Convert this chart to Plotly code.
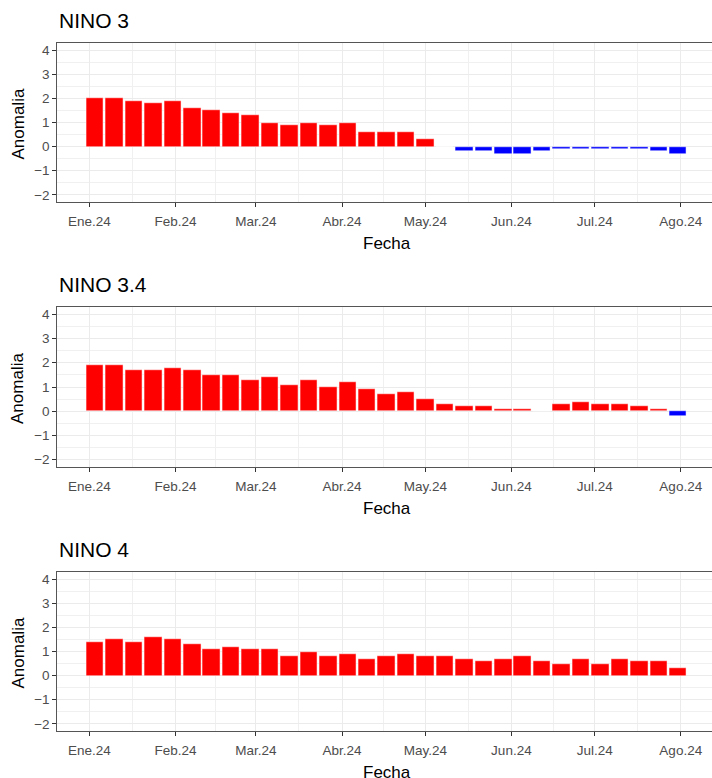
import plotly.graph_objects as go

# Weekly SST anomalies (°C) for the Niño regions, 2024
fechas = [
    "2024-01-03", "2024-01-10", "2024-01-17", "2024-01-24", "2024-01-31",
    "2024-02-07", "2024-02-14", "2024-02-21", "2024-02-28", "2024-03-06",
    "2024-03-13", "2024-03-20", "2024-03-27", "2024-04-03", "2024-04-10",
    "2024-04-17", "2024-04-24", "2024-05-01", "2024-05-08", "2024-05-15",
    "2024-05-22", "2024-05-29", "2024-06-05", "2024-06-12", "2024-06-19",
    "2024-06-26", "2024-07-03", "2024-07-10", "2024-07-17", "2024-07-24",
    "2024-07-31",
]

nino3 = [2.0, 2.0, 1.9, 1.8, 1.9, 1.6, 1.5, 1.4, 1.3, 1.0,
         0.9, 1.0, 0.9, 1.0, 0.6, 0.6, 0.6, 0.3, 0.0, -0.2,
         -0.2, -0.3, -0.3, -0.2, -0.1, -0.1, -0.1, -0.1, -0.1, -0.2,
         -0.3]

nino34 = [1.9, 1.9, 1.7, 1.7, 1.8, 1.7, 1.5, 1.5, 1.3, 1.4,
          1.1, 1.3, 1.0, 1.2, 0.9, 0.7, 0.8, 0.5, 0.3, 0.2,
          0.2, 0.1, 0.1, 0.0, 0.3, 0.4, 0.3, 0.3, 0.2, 0.1,
          -0.2]

nino4 = [1.4, 1.5, 1.4, 1.6, 1.5, 1.3, 1.1, 1.2, 1.1, 1.1,
         0.8, 1.0, 0.8, 0.9, 0.7, 0.8, 0.9, 0.8, 0.8, 0.7,
         0.6, 0.7, 0.8, 0.6, 0.5, 0.7, 0.5, 0.7, 0.6, 0.6,
         0.3]

regiones = ["NINO 3", "NINO 3.4", "NINO 4"]
series = [nino3, nino34, nino4]

meses = ["2024-01-01", "2024-02-01", "2024-03-01", "2024-04-01",
         "2024-05-01", "2024-06-01", "2024-07-01", "2024-08-01"]
etiquetas_meses = ["Ene.24", "Feb.24", "Mar.24", "Abr.24",
                   "May.24", "Jun.24", "Jul.24", "Ago.24"]
# minor grid between month breaks
medios_mes = ["2024-01-16 12:00", "2024-02-15 12:00", "2024-03-16 12:00",
              "2024-04-16", "2024-05-16 12:00", "2024-06-16", "2024-07-16 12:00"]

W, H = 712, 778
FONT = "Liberation Sans, Arial, sans-serif"
MS_DIA = 86400000
ancho_barra = 0.9 * 7 * MS_DIA

# panel placement in pixels (top, bottom)
paneles_px = [(43, 202), (307, 467), (572, 731)]
x_izq = 57.3 / W

fig = go.Figure()
layout_axes = {}
annotations = []

for i, (nombre, valores) in enumerate(zip(regiones, series)):
    n = i + 1
    xa = "x" if n == 1 else f"x{n}"
    ya = "y" if n == 1 else f"y{n}"
    colores = ["#FF0000" if v >= 0 else "#0000FF" for v in valores]
    fig.add_trace(go.Bar(
        x=fechas, y=valores, width=ancho_barra,
        marker=dict(color=colores, line=dict(color="white", width=0.5)),
        xaxis=xa, yaxis=ya, showlegend=False,
    ))
    top, bot = paneles_px[i]
    dom = [1 - bot / H, 1 - top / H]
    xkey = "xaxis" if n == 1 else f"xaxis{n}"
    ykey = "yaxis" if n == 1 else f"yaxis{n}"
    layout_axes[xkey] = dict(
        domain=[x_izq, 1.0], anchor=ya, type="date",
        range=["2023-12-20 11:00", "2024-08-12 06:00"],
        tickmode="array", tickvals=meses, ticktext=etiquetas_meses,
        ticks="outside", ticklen=4, tickwidth=1, tickcolor="#333333",
        ticklabelstandoff=3,
        tickfont=dict(family=FONT, size=13.5, color="#4D4D4D"),
        showgrid=True, gridcolor="#EBEBEB", gridwidth=1.4,
        minor=dict(tickmode="array", tickvals=medios_mes, showgrid=True,
                   gridcolor="#F0F0F0", gridwidth=0.8, ticks=""),
        showline=True, mirror=True, linecolor="#555555", linewidth=1,
        zeroline=False, fixedrange=True,
    )
    layout_axes[ykey] = dict(
        domain=dom, anchor=xa, range=[-2.3, 4.3],
        tickmode="array", tickvals=[-2, -1, 0, 1, 2, 3, 4],
        ticks="outside", ticklen=4, tickwidth=1, tickcolor="#333333",
        tickfont=dict(family=FONT, size=13.5, color="#4D4D4D"),
        showgrid=True, gridcolor="#EBEBEB", gridwidth=1.4,
        minor=dict(dtick=0.5, tick0=0, showgrid=True,
                   gridcolor="#F0F0F0", gridwidth=0.8, ticks=""),
        showline=True, mirror=True, linecolor="#555555", linewidth=1,
        zeroline=False, fixedrange=True,
    )
    # panel title
    annotations.append(dict(
        text=nombre, xref="paper", yref="paper", x=x_izq, y=1 - (top - 9) / H,
        xanchor="left", yanchor="bottom", showarrow=False,
        font=dict(family=FONT, size=21, color="black"),
    ))
    # axis titles
    annotations.append(dict(
        text="Fecha", xref="paper", yref="paper", x=386.8 / W,
        y=1 - (bot + 41) / H, xanchor="center", yanchor="middle", showarrow=False,
        font=dict(family=FONT, size=17, color="black"),
    ))
    annotations.append(dict(
        text="Anomalia", xref="paper", yref="paper", x=6 / W,
        y=1 - ((top + bot) / 2 + 1.5) / H, xanchor="left", yanchor="middle",
        textangle=-90, showarrow=False,
        font=dict(family=FONT, size=17, color="black"),
    ))

fig.update_layout(
    width=W, height=H,
    margin=dict(l=0, r=0, t=0, b=0),
    paper_bgcolor="white", plot_bgcolor="white",
    bargap=0, annotations=annotations,
    **layout_axes,
)

fig.write_html("out.html", config={"displayModeBar": False})
